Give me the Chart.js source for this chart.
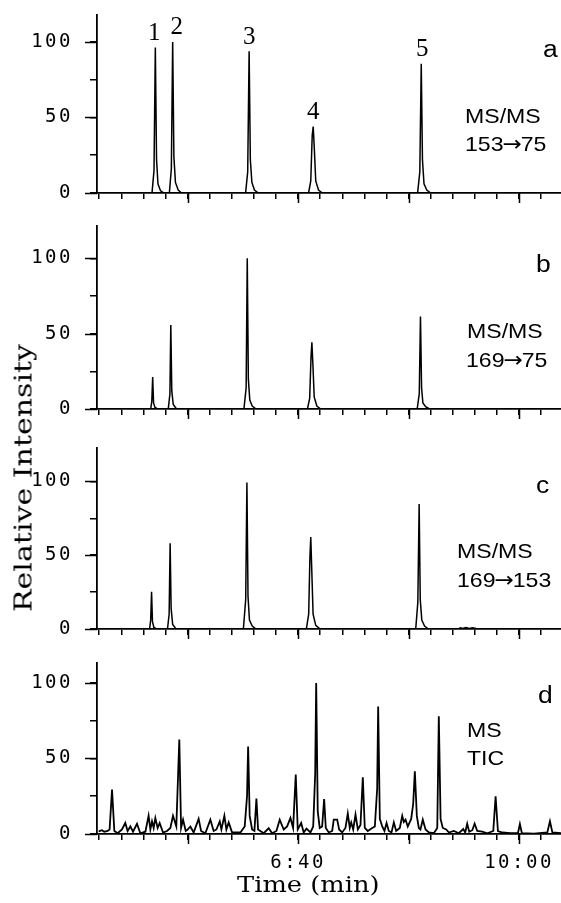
<!DOCTYPE html>
<html><head><meta charset="utf-8">
<script src="https://cdn.jsdelivr.net/npm/chart.js@4.4.1/dist/chart.umd.min.js"></script>
<style>
html,body{margin:0;padding:0;background:#fff;overflow:hidden}
body{width:561px;height:903px;position:relative}
canvas{position:absolute;left:0}
.t{position:absolute;font-family:"Liberation Sans",Arial,sans-serif;color:#000;white-space:nowrap;transform-origin:0 0;line-height:1}
.m{font-size:21px;transform:scaleX(1.1)}
.l{font-size:23px;transform:scaleX(1.15)}
.ar{display:inline-block;font-family:"DejaVu Sans",sans-serif;margin:0 -1px}
.s{font-family:"DejaVu Serif",serif}
</style></head><body>
<canvas id="pa"></canvas>
<canvas id="pb"></canvas>
<canvas id="pc"></canvas>
<canvas id="pd"></canvas>

<div class="t l" style="left:543px;top:38px">a</div>
<div class="t m" style="left:465px;top:105px">MS/MS</div>
<div class="t m" style="left:465px;top:133px">153<span class="ar">→</span>75</div>

<div class="t l" style="left:536px;top:253px">b</div>
<div class="t m" style="left:467px;top:320px">MS/MS</div>
<div class="t m" style="left:466px;top:349px">169<span class="ar">→</span>75</div>

<div class="t l" style="left:536px;top:474px">c</div>
<div class="t m" style="left:457px;top:540px">MS/MS</div>
<div class="t m" style="left:457px;top:569px">169<span class="ar">→</span>153</div>

<div class="t l" style="left:538px;top:684px">d</div>
<div class="t m" style="left:467px;top:719px">MS</div>
<div class="t m" style="left:467px;top:747px">TIC</div>

<div class="t s" style="left:237px;top:874px;font-size:22px;transform:scaleX(1.17)">Time (min)</div>
<div class="t s" style="left:23px;top:478px;font-size:25px;transform-origin:50% 50%;transform:translate(-50%,-50%) rotate(-90deg) scaleX(1.2)">Relative Intensity</div>

<script>
// time axis (seconds)
const xMin = 218, xMax = 638;
const xMinorTicks = [220,240,260,280,300,320,340,360,380,400,420,440,460,480,500,520,540,560,580,600,620];
const xMajorTicks = [300,400,500,600];
const xLabelSeconds = [400,600];
const xLabelText = ['6:40','10:00'];
const yTickValues = [0,25,50,75,100];
const yLabelValues = [0,50,100];

// peak labels, panel a
const peakLabelsA = ['1','2','3','4','5'];
const peakTimesA = [270.8,286.5,355.7,413.7,511.5];
const peakHeightsA = [96.4,100,93.8,44,85.6];

// a: MS/MS 153->75
const tA = [218,267.8,269.6,270.8,271.9,273.2,275.5,278.5,
  283.5,285.3,286.5,287.6,289,291.5,294.5,
  352.5,354.4,355.7,356.8,358.2,360.5,364,
  409.5,411.5,412.8,413.7,414.8,416,418.5,422,
  508.2,510.2,511.5,512.6,514,516.5,520,
  638];
const yA = [0,0,15,96.4,22,6,1.5,0,
  0,16,100,24,7,2,0,
  0,14,93.8,22,7,2,0,
  0,8,38,44,28,8,2,0,
  0,14,85.6,22,6,2,0,
  0];

// b: MS/MS 169->75
const tB = [218,266.6,267.6,268.4,269.2,270.5,273,
  282.5,284,284.8,285.7,287,290,
  351,353,354,355,356.3,358.5,362,
  408.5,410.5,411.7,412.5,413.4,414.6,417,420.5,
  507.8,509.7,510.8,511.8,513,515.5,519,
  638];
const yB = [0,0,5,21.2,4,1,0,
  0,10,55.8,12,3,0,
  0,14,100,20,6,2,0,
  0,7,34,44.2,30,8,2,0,
  0,10,61.4,14,4,1.5,0,
  0];

// c: MS/MS 169->153
const tC = [218,265.6,266.6,267.4,268.2,269.5,272,
  281.8,283.3,284.2,285.1,286.5,289.5,
  350.5,352.6,353.7,354.7,356,358.5,362,
  407.5,409.6,410.7,411.5,412.4,413.6,416,420,
  506.5,508.4,509.6,510.6,512,514.5,518,
  545,547,549,552,555,558,561,563,
  638];
const yC = [0,0,6,25.2,5,1,0,
  0,10,58.1,14,3,0,
  0,20,99.3,22,6,2,0,
  0,10,48,62.3,40,10,2.5,0,
  0,18,84.6,20,6,2,0,
  0,0.8,0.3,1,0.4,0.9,0.3,0,
  0];

// d: MS TIC
const tD = [219.5,222.5,224.6,227.6,229.4,231.6,233.7,236.7,240.6,243.6,245.7,248.2,250.6,254.2,257.2,261.8,
  264.7,266.3,267.8,269.3,270.8,272.9,274.7,277.8,281.4,284.4,286.8,289.8,292.5,294.1,295.9,298.3,
  300.1,302.5,305.5,310,312.2,316.1,320.6,323.6,326.1,329.1,330.6,333.3,335.1,337.2,340.3,347.8,
  351.7,353.8,354.8,356.2,358.4,360.5,362.3,363.8,368.9,373.4,376.5,380.4,383.4,
  387,390.1,393.1,395.5,397.9,399.7,402.8,405.1,407.6,411.2,413.7,415.5,416.4,417.8,419.6,421.8,
  423.6,425.1,427.8,430.9,432.3,435.4,437.2,439.9,442.9,445,446.8,448.1,449.9,452,454.1,456.5,
  458.6,460.4,463.1,467.1,469.5,471.6,472.5,474,476.2,478.2,480.1,482.1,484.6,486.7,488.8,492.1,
  494.3,495.7,497.3,499.3,502.4,504.2,505.7,507.5,509.3,510.8,512.9,515.4,518.4,522.9,526,527.4,
  529,531,534.1,536.5,541,545.5,549.5,551.3,553.1,554.9,557.7,559.8,562.2,566.7,571.3,576.7,
  578.8,580.9,584.9,592.4,599,600.8,602.6,613.5,625.6,628,630.2,638];
const yD = [1.8,2.5,1.5,2,3,29.4,2,0.5,3,7.3,2,5,1.5,6.8,0.5,1.5,
  12.1,3,8.4,4,10.6,4,7.3,1,2,4,12.1,5,62.5,4,9.5,2,
  3,5,1,10,2,0.5,9.5,2,3,8.4,3,12,3,7.7,1,1,
  5,25,58,12,3,2,23.4,3,0.5,3.8,0.5,2,9.5,
  3,5,10.6,4,39.3,3,7.3,1,3.5,1,5,40,100,15,4,5,
  23.2,4,1,2,9.5,9.5,3,1,4,13.5,4,7.7,3,12.8,3,6,
  37.5,4,2,4,5,30,84.5,10,5,2,7.3,2,1,7.7,2,4,
  12,8,9.5,5,10,20,41.5,12,4,3,9.5,3,1,0.5,4,77.9,
  10,4,3,1,2,0.5,3.3,1,6.8,1.5,2.5,6.8,2,1.5,0.5,2,
  25,2,1,0.5,0.5,6.6,0.5,0.3,1,8.4,1,0.5];

const black = '#000';

const majorTicks = {
  id: 'majorTicks',
  beforeDraw(chart) { chart.ctx.letterSpacing = '2.5px'; },
  afterDraw(chart, args, opts) {
    const {ctx, chartArea, scales: {x, y}} = chart;
    ctx.save();
    ctx.letterSpacing = '0px';
    ctx.strokeStyle = black; ctx.lineWidth = 1.5;
    ctx.beginPath();
    xMajorTicks.forEach(v => {
      const px = Math.round(x.getPixelForValue(v)) + 0.5;
      ctx.moveTo(px, chartArea.bottom); ctx.lineTo(px, chartArea.bottom + 10);
    });
    yLabelValues.forEach(v => {
      const py = Math.round(y.getPixelForValue(v)) + 0.5;
      ctx.moveTo(chartArea.left - 12, py); ctx.lineTo(chartArea.left, py);
    });
    ctx.stroke();
    if (opts.peaks) {
      ctx.fillStyle = black;
      ctx.font = '25px "Liberation Serif"';
      ctx.textAlign = 'center'; ctx.textBaseline = 'alphabetic';
      const shift = [-1, 4, 0, 0, 1];
      peakLabelsA.forEach((s, i) => {
        ctx.fillText(s, x.getPixelForValue(peakTimesA[i]) + shift[i], y.getPixelForValue(peakHeightsA[i]) - 7.5);
      });
    }
    ctx.restore();
  }
};

function makePanel(id, top, areaH, yMax, times, vals, lw, showX, peaks) {
  const bottom = showX ? 50 : 14;
  const c = document.getElementById(id);
  c.width = 561; c.height = areaH + bottom;
  c.style.top = top + 'px';
  new Chart(c.getContext('2d'), {
    type: 'line',
    data: {datasets: [{data: times.map((t, i) => ({x: t, y: vals[i]})), borderColor: black, borderWidth: lw,
      pointRadius: 0, tension: 0, fill: false}]},
    options: {
      responsive: false, animation: false, events: [],
      layout: {padding: 0},
      plugins: {legend: {display: false}, tooltip: {enabled: false}, majorTicks: {peaks: peaks}},
      scales: {
        x: {
          type: 'linear', min: xMin, max: xMax,
          afterBuildTicks: s => { s.ticks = xMinorTicks.map(v => ({value: v})); },
          afterFit: s => { s.height = bottom; s.paddingLeft = 0; s.paddingRight = 0; },
          grid: {drawOnChartArea: false, color: black, lineWidth: 1.5, tickLength: 6},
          border: {color: black, width: 1.8},
          ticks: {display: showX, autoSkip: false, maxRotation: 0, color: black, padding: 12,
            font: {family: 'DejaVu Sans Mono', size: 19},
            callback: v => { const k = xLabelSeconds.indexOf(v); return k < 0 ? '' : xLabelText[k]; }}
        },
        y: {
          min: 0, max: yMax,
          afterBuildTicks: s => { s.ticks = yTickValues.map(v => ({value: v})); },
          afterFit: s => { s.width = 97; s.paddingTop = 0; s.paddingBottom = 0; },
          grid: {drawOnChartArea: false, color: black, lineWidth: 1.5, tickLength: 7},
          border: {color: black, width: 1.8},
          ticks: {color: black, padding: 17, font: {family: 'DejaVu Sans Mono', size: 19},
            callback: v => yLabelValues.includes(v) ? String(v) : ''}
        }
      }
    },
    plugins: [majorTicks]
  });
}

makePanel('pa', 14, 179, 118.5, tA, yA, 1.5, false, true);
makePanel('pb', 225, 184, 122.1, tB, yB, 1.5, false, false);
makePanel('pc', 447, 182, 123.3, tC, yC, 1.5, false, false);
makePanel('pd', 662, 172, 113.9, tD, yD, 1.8, true, false);
</script>
</body></html>
